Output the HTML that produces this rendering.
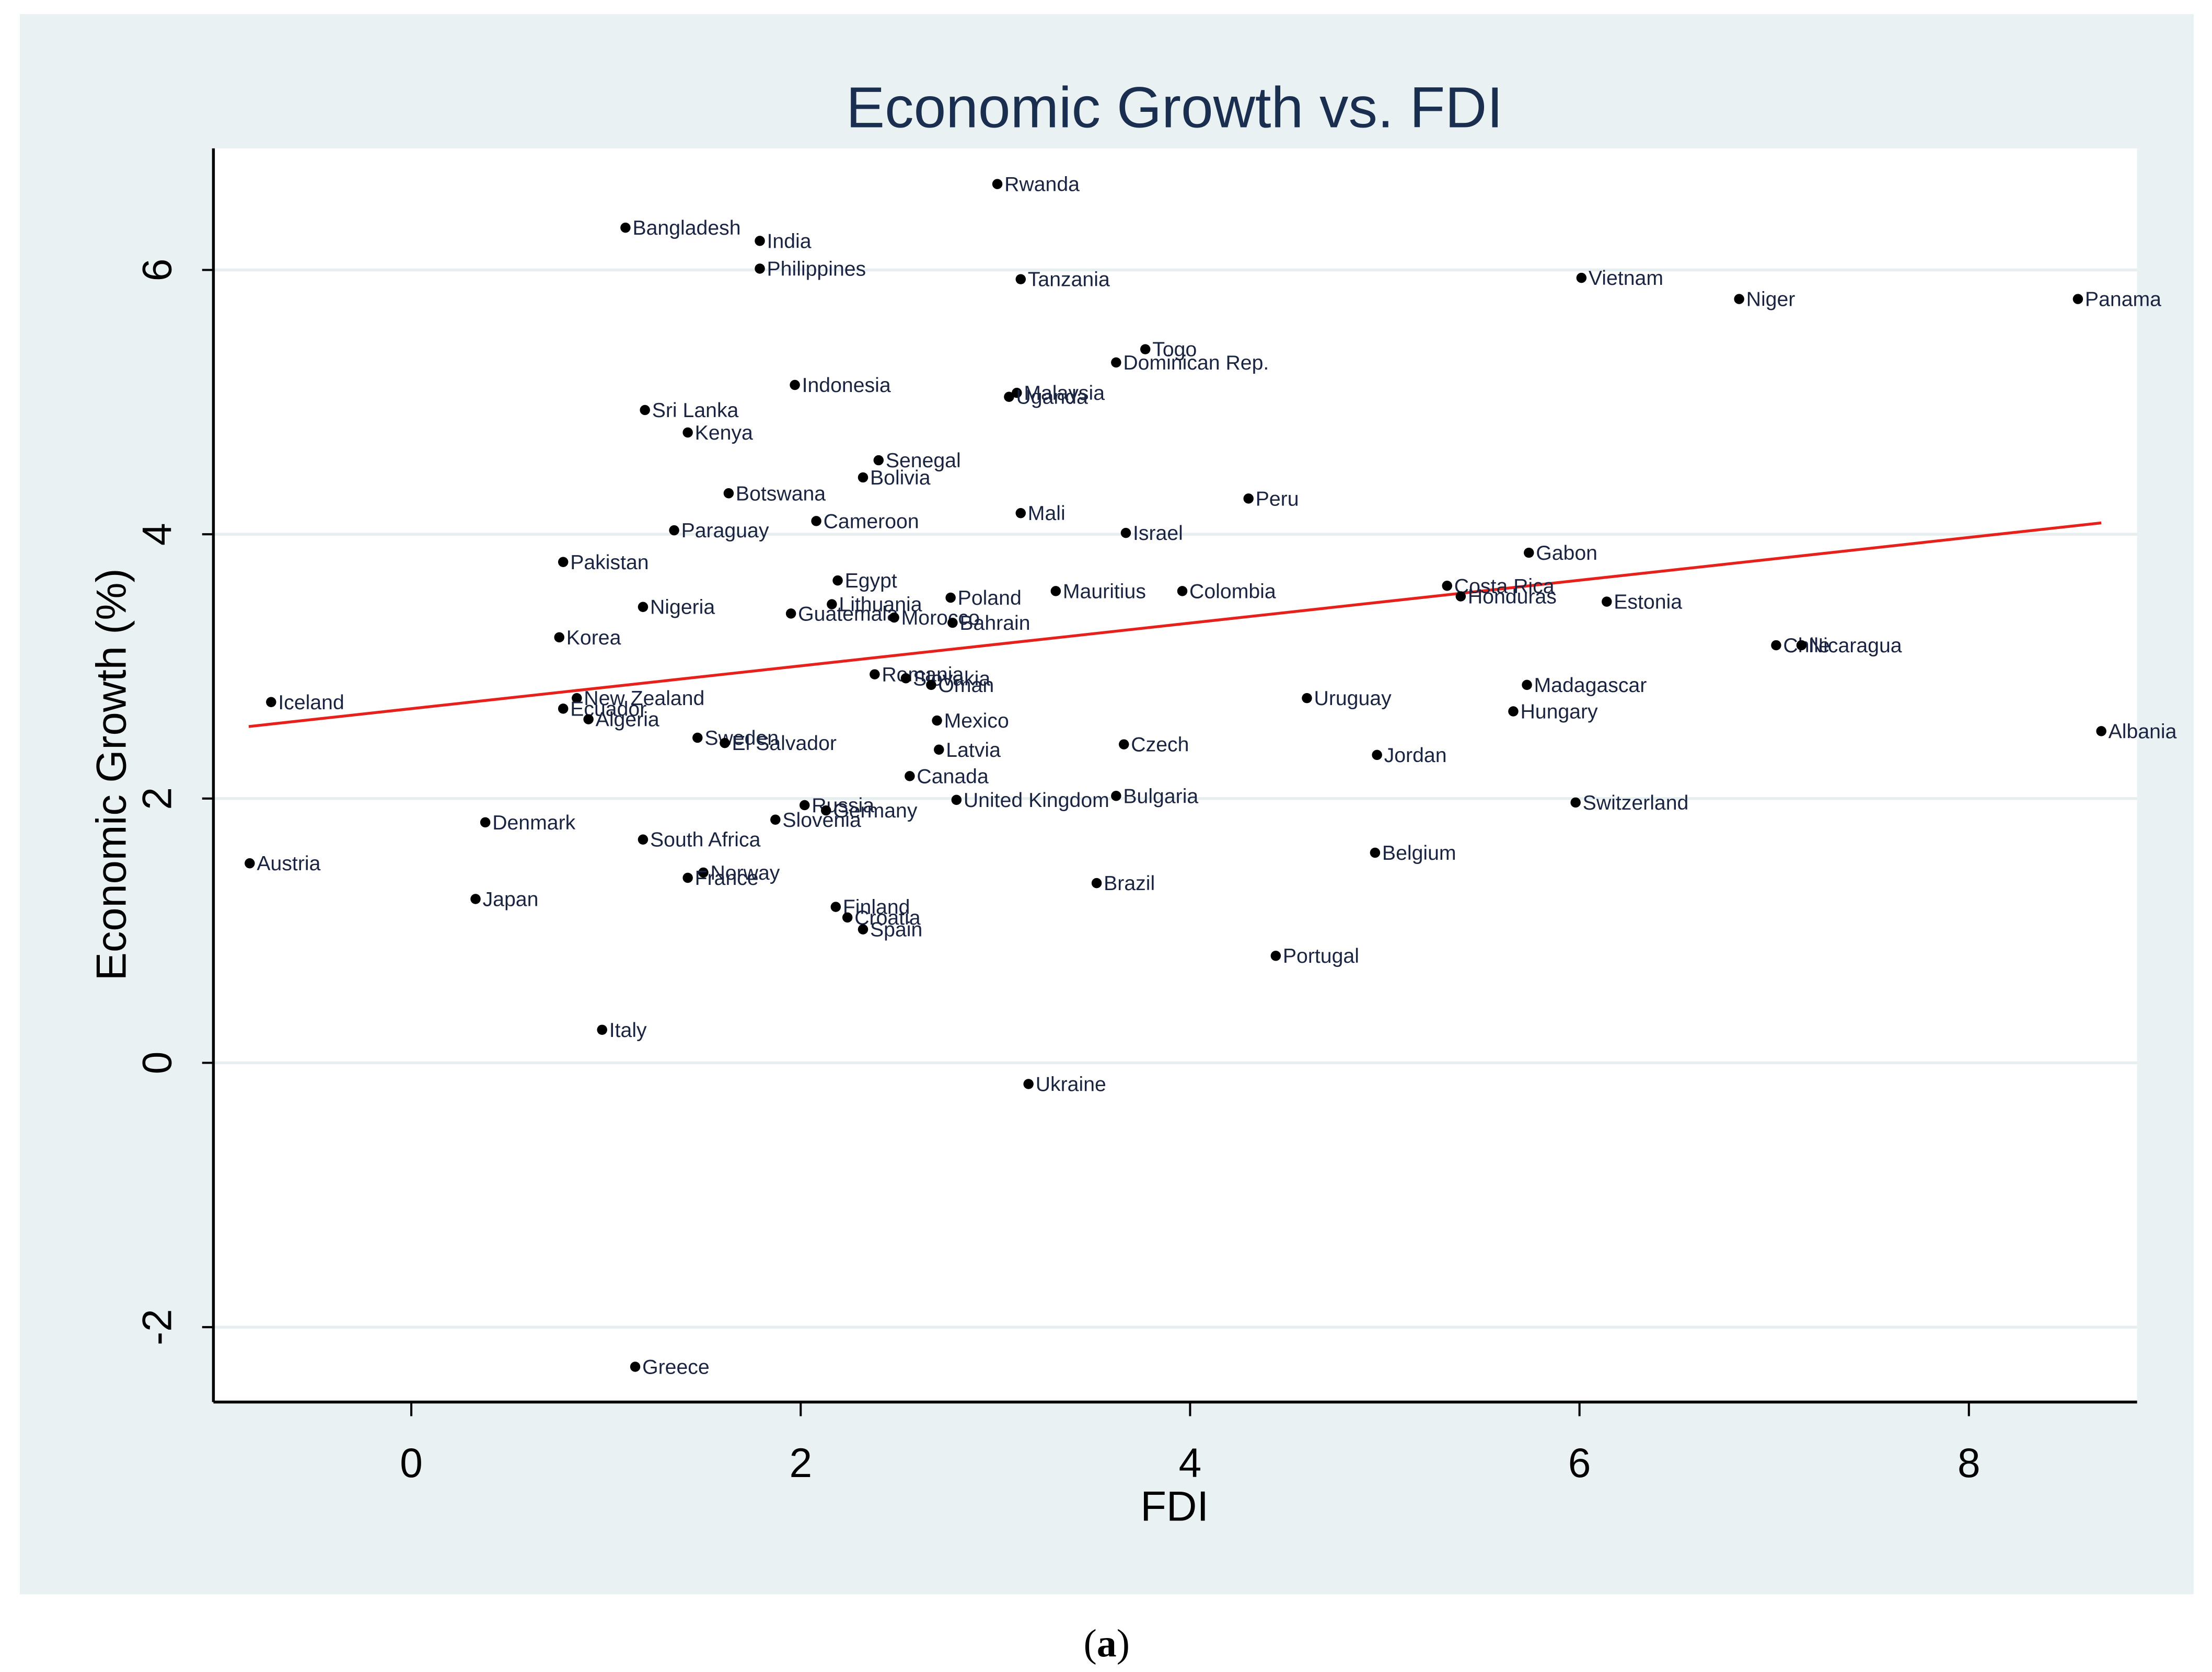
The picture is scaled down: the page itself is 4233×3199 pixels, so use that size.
<!DOCTYPE html>
<html><head><meta charset="utf-8"><style>
html,body{margin:0;padding:0;background:#fff;}
svg{display:block;font-family:"Liberation Sans",sans-serif;}
</style></head><body>
<svg id="chart" width="4233" height="3199" viewBox="0 0 1565 1183" preserveAspectRatio="none" xmlns="http://www.w3.org/2000/svg">
<rect x="14" y="10" width="1538" height="1118" fill="#e9f1f3"/>
<rect x="151" y="105" width="1361" height="887" fill="#ffffff"/>
<text x="831" y="90" font-size="41" fill="#1a2e4f" text-anchor="middle">Economic Growth vs. FDI</text>
<text x="831" y="1076" font-size="30" fill="#000" text-anchor="middle">FDI</text>
<text transform="translate(89,548) rotate(-90)" font-size="30" fill="#000" text-anchor="middle">Economic Growth (%)</text>
<text x="783" y="1172" font-size="28" font-family="Liberation Serif, serif" fill="#000" text-anchor="middle">(<tspan font-weight="bold">a</tspan>)</text>
<g id="grid"></g><g id="axes"></g><g id="marks"></g>
</svg>
<script>
const xTicks=[0,2,4,6,8];
const yTicks=[-2,0,2,4,6];
const countries=["Rwanda","Bangladesh","India","Philippines","Tanzania","Vietnam","Niger","Panama","Togo","Dominican Rep.","Indonesia","Malaysia","Uganda","Sri Lanka","Kenya","Senegal","Bolivia","Botswana","Peru","Mali","Cameroon","Paraguay","Israel","Gabon","Pakistan","Egypt","Costa Rica","Mauritius","Colombia","Poland","Honduras","Estonia","Lithuania","Nigeria","Guatemala","Morocco","Bahrain","Korea","Chile","Nicaragua","Romania","Slovakia","Oman","Madagascar","Uruguay","New Zealand","Iceland","Ecuador","Hungary","Algeria","Mexico","Albania","Sweden","El Salvador","Czech","Latvia","Jordan","Canada","Bulgaria","United Kingdom","Switzerland","Russia","Germany","Slovenia","Denmark","South Africa","Belgium","Austria","Norway","France","Brazil","Japan","Finland","Croatia","Spain","Portugal","Italy","Ukraine","Greece"];
const fdi=[3.01,1.10,1.79,1.79,3.13,6.01,6.82,8.56,3.77,3.62,1.97,3.11,3.07,1.20,1.42,2.40,2.32,1.63,4.30,3.13,2.08,1.35,3.67,5.74,0.78,2.19,5.32,3.31,3.96,2.77,5.39,6.14,2.16,1.19,1.95,2.48,2.78,0.76,7.01,7.14,2.38,2.54,2.67,5.73,4.60,0.85,-0.72,0.78,5.66,0.91,2.70,8.68,1.47,1.61,3.66,2.71,4.96,2.56,3.62,2.80,5.98,2.02,2.13,1.87,0.38,1.19,4.95,-0.83,1.50,1.42,3.52,0.33,2.18,2.24,2.32,4.44,0.98,3.17,1.15];
const growth=[6.65,6.32,6.22,6.01,5.93,5.94,5.78,5.78,5.40,5.30,5.13,5.07,5.04,4.94,4.77,4.56,4.43,4.31,4.27,4.16,4.10,4.03,4.01,3.86,3.79,3.65,3.61,3.57,3.57,3.52,3.53,3.49,3.47,3.45,3.40,3.37,3.33,3.22,3.16,3.16,2.94,2.91,2.86,2.86,2.76,2.76,2.73,2.68,2.66,2.60,2.59,2.51,2.46,2.42,2.41,2.37,2.33,2.17,2.02,1.99,1.97,1.95,1.91,1.84,1.82,1.69,1.59,1.51,1.44,1.40,1.36,1.24,1.18,1.10,1.01,0.81,0.25,-0.16,-2.30];
const fitX=[-0.835,8.68];
const fitY=[2.545,4.086];
const X=v=>291+137.75*v, Y=v=>752-93.5*v;
const NS="http://www.w3.org/2000/svg";
function mk(tag,attrs,parent,text){const e=document.createElementNS(NS,tag);for(const k in attrs)e.setAttribute(k,attrs[k]);if(text!==undefined)e.textContent=text;parent.appendChild(e);return e;}
const grid=document.getElementById('grid'),axes=document.getElementById('axes'),marks=document.getElementById('marks');
yTicks.forEach(t=>{
 const g=mk('line',{x1:151,x2:1512,y1:Y(t),y2:Y(t),stroke:'#e6eef0','stroke-width':2},grid);
 
 
 const tk=mk('line',{x1:143,x2:151,y1:Y(t),y2:Y(t),stroke:'#000','stroke-width':1.5},axes);
 
 
 const lb=mk('text',{transform:`translate(121,${Y(t)}) rotate(-90)`,'font-size':29,'text-anchor':'middle',fill:'#000'},axes,String(t));
 
 
});
xTicks.forEach(t=>{
 const tk=mk('line',{x1:X(t),x2:X(t),y1:992,y2:1002,stroke:'#000','stroke-width':1.5},axes);
 
 
 const lb=mk('text',{x:X(t),y:1045,'font-size':29,'text-anchor':'middle',fill:'#000'},axes,String(t));
 
 
});
const ya=mk('line',{x1:151,x2:151,y1:105,y2:992,stroke:'#000','stroke-width':2},axes);


const xa=mk('line',{x1:151,x2:1512,y1:992,y2:992,stroke:'#000','stroke-width':2},axes);


const fl=mk('line',{x1:X(fitX[0]),y1:Y(fitY[0]),x2:X(fitX[1]),y2:Y(fitY[1]),stroke:'#e8201c','stroke-width':2},marks);


countries.forEach((c,i)=>{
 const cx=X(fdi[i]),cy=Y(growth[i]);
 const d=mk('circle',{cx:cx,cy:cy,r:3.6,fill:'#000'},marks);
 
 
 const t=mk('text',{x:cx+5,y:cy+5,'font-size':14.5,fill:'#1a2440'},marks,c);
 
 
});
</script>
</body></html>
